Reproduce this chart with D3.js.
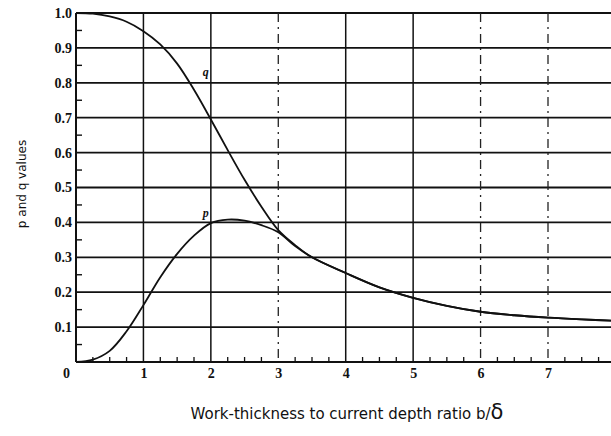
<!DOCTYPE html>
<html>
<head>
<meta charset="utf-8">
<script src="https://cdn.jsdelivr.net/npm/d3@7"></script>
<style>
  html, body { margin: 0; padding: 0; background: #fff; }
  svg { display: block; }
</style>
</head>
<body>
<svg id="chart" width="611" height="436"></svg>
<script>
// ---- data ----
const xValues = [0, 0.25, 0.5, 0.75, 1.0, 1.25, 1.5, 1.75, 2.0, 2.25, 2.5, 2.75, 3.0, 3.25, 3.5, 4.0, 4.5, 5.0, 5.5, 6.0, 6.5, 7.0, 7.5, 8.0];
const pValues = [0, 0.007, 0.032, 0.088, 0.163, 0.243, 0.31, 0.362, 0.398, 0.408, 0.405, 0.392, 0.372, 0.332, 0.30, 0.255, 0.214, 0.184, 0.161, 0.144, 0.134, 0.127, 0.122, 0.118];
const qValues = [1.0, 0.998, 0.99, 0.975, 0.948, 0.91, 0.855, 0.78, 0.695, 0.607, 0.522, 0.445, 0.378, 0.335, 0.30, 0.255, 0.214, 0.184, 0.161, 0.144, 0.134, 0.127, 0.122, 0.118];
const xTickLabels = ["0", "1", "2", "3", "4", "5", "6", "7"];
const yTickLabels = ["1.0", "0.9", "0.8", "0.7", "0.6", "0.5", "0.4", "0.3", "0.2", "0.1"];
const yGridValues = [0.1, 0.2, 0.3, 0.4, 0.5, 0.6, 0.7, 0.8, 0.9, 1.0];
const xSolidGrid = [1, 2, 4, 5];
const xDashedGrid = [3, 6, 7];
const curveLabels = [{name: "q", x: 1.88, y: 0.82}, {name: "p", x: 1.88, y: 0.415}];

// ---- layout ----
const svg = d3.select("#chart");
const x = d3.scaleLinear().domain([0, 7]).range([76, 548]);
const y = d3.scaleLinear().domain([0, 1]).range([362, 13]);
const xMax = 8;

const g = svg.append("g");

// horizontal gridlines
g.selectAll("line.hgrid").data(yGridValues).join("line")
  .attr("x1", x(0)).attr("x2", x(xMax))
  .attr("y1", d => y(d)).attr("y2", d => y(d))
  .attr("stroke", "#111").attr("stroke-width", 1.8);

// vertical gridlines
g.selectAll("line.vsolid").data(xSolidGrid).join("line")
  .attr("x1", d => x(d)).attr("x2", d => x(d))
  .attr("y1", y(1)).attr("y2", y(0))
  .attr("stroke", "#111").attr("stroke-width", 1.5);
g.selectAll("line.vdash").data(xDashedGrid).join("line")
  .attr("x1", d => x(d)).attr("x2", d => x(d))
  .attr("y1", y(1)).attr("y2", y(0))
  .attr("stroke", "#222").attr("stroke-width", 1.3)
  .attr("stroke-dasharray", "9,5,2,5");

// axes lines
g.append("line").attr("x1", x(0)).attr("x2", x(0)).attr("y1", y(1)).attr("y2", y(0))
  .attr("stroke", "#111").attr("stroke-width", 2);
g.append("line").attr("x1", x(0)).attr("x2", x(xMax)).attr("y1", y(0)).attr("y2", y(0))
  .attr("stroke", "#111").attr("stroke-width", 2);

// minor ticks y (every 0.05 offset)
const yMinor = d3.range(0.05, 1.0, 0.1);
g.selectAll("line.ymin").data(yMinor).join("line")
  .attr("x1", x(0)).attr("x2", x(0) + 6)
  .attr("y1", d => y(d)).attr("y2", d => y(d))
  .attr("stroke", "#111").attr("stroke-width", 1.4);

// minor ticks x (quarter units)
const xMinor = d3.range(0.25, xMax, 0.25).filter(d => Math.abs(d - Math.round(d)) > 0.01);
g.selectAll("line.xmin").data(xMinor).join("line")
  .attr("x1", d => x(d)).attr("x2", d => x(d))
  .attr("y1", y(0)).attr("y2", y(0) - 5)
  .attr("stroke", "#111").attr("stroke-width", 1.3);

// axes labels via d3 axes
const yAxis = d3.axisLeft(y).tickValues(yGridValues).tickSize(0).tickPadding(4)
  .tickFormat((d, i) => yTickLabels[yTickLabels.length - 1 - i]);
const ya = svg.append("g").attr("transform", `translate(${x(0)},0)`).call(yAxis);
ya.select(".domain").remove();
ya.selectAll("text").attr("font-family", "Liberation Serif").attr("font-weight", "bold")
  .attr("font-size", 14).attr("fill", "#111");

const xAxis = d3.axisBottom(x).tickValues(d3.range(0, 8)).tickSize(0).tickPadding(6)
  .tickFormat((d, i) => xTickLabels[i]);
const xa = svg.append("g").attr("transform", `translate(0,${y(0)})`).call(xAxis);
xa.select(".domain").remove();
xa.selectAll("text").attr("font-family", "Liberation Serif").attr("font-weight", "bold")
  .attr("font-size", 14).attr("fill", "#111");
xa.selectAll(".tick").filter(d => d === 0).select("text").attr("dx", -10);

// curves
const line = d3.line().x((d, i) => x(xValues[i])).y(d => y(d)).curve(d3.curveCatmullRom.alpha(0.5));
svg.append("path").datum(qValues).attr("d", line)
  .attr("fill", "none").attr("stroke", "#111").attr("stroke-width", 1.8);
svg.append("path").datum(pValues).attr("d", line)
  .attr("fill", "none").attr("stroke", "#111").attr("stroke-width", 1.8);

// curve labels
svg.selectAll("text.clab").data(curveLabels).join("text")
  .attr("x", d => x(d.x)).attr("y", d => y(d.y))
  .attr("font-family", "Liberation Serif").attr("font-style", "italic").attr("font-weight", "bold")
  .attr("font-size", 12).attr("fill", "#111")
  .text(d => d.name);

// axis titles
svg.append("text")
  .attr("transform", "translate(26,184) rotate(-90)")
  .attr("text-anchor", "middle")
  .attr("font-family", "DejaVu Sans").attr("font-size", 12).attr("fill", "#111")
  .text("p and q values");

const xt = svg.append("text")
  .attr("x", 347).attr("y", 419)
  .attr("text-anchor", "middle")
  .attr("font-family", "DejaVu Sans").attr("font-size", 15).attr("fill", "#111");
xt.append("tspan").text("Work-thickness to current depth ratio b/");
xt.append("tspan").attr("font-size", 21).text("δ");
</script>
</body>
</html>
